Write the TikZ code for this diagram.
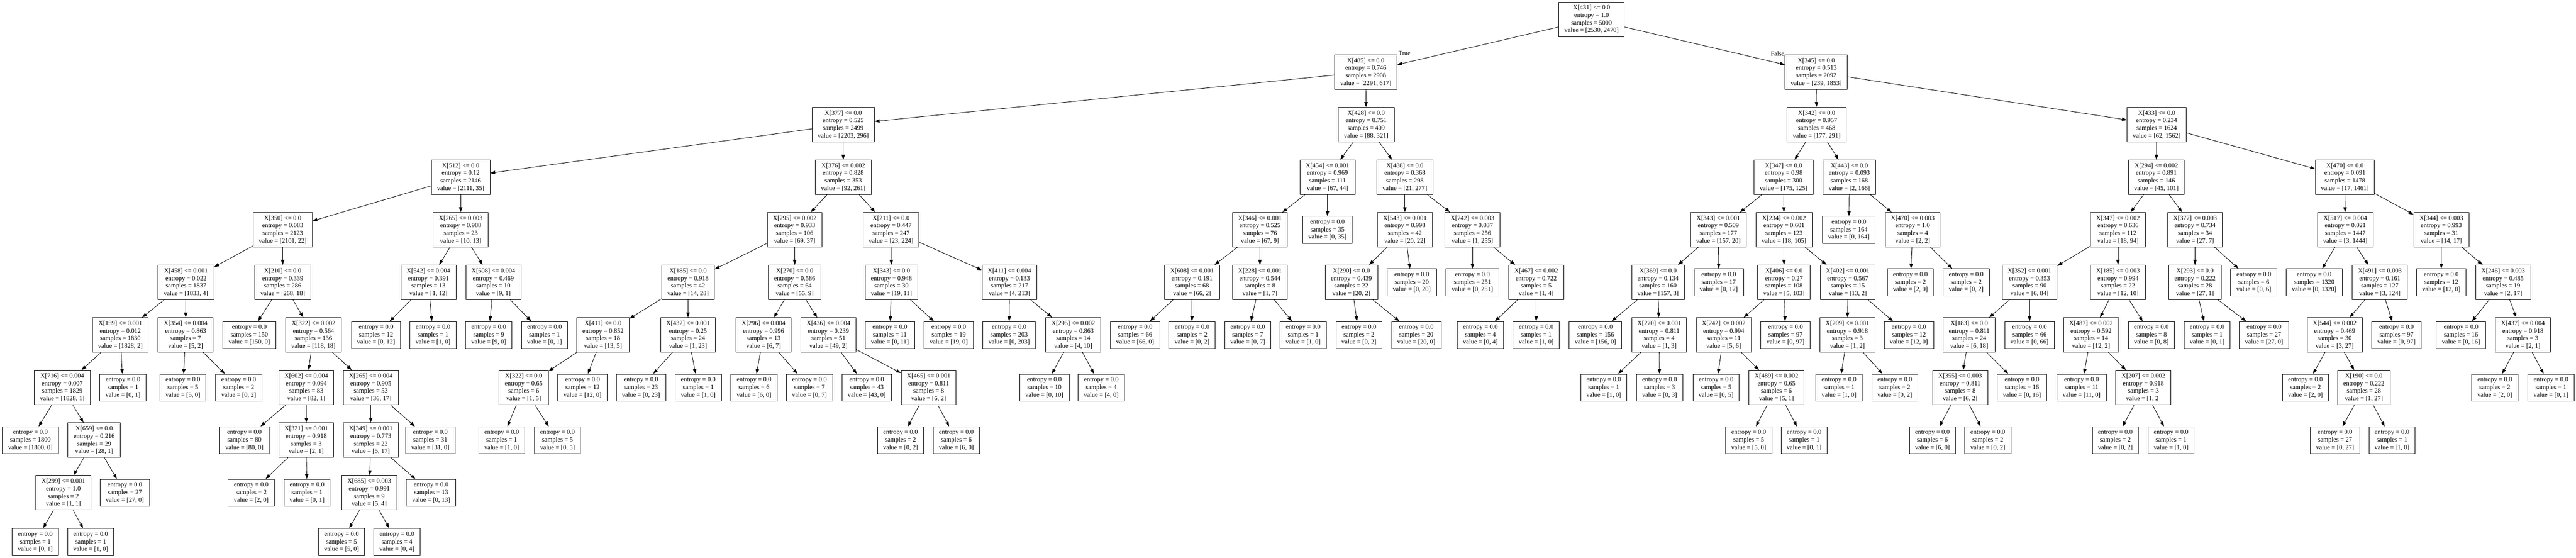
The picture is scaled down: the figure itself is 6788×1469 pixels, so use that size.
\documentclass[tikz,border=0pt]{standalone}
\usepackage{fontspec}
\setmainfont{Liberation Serif}
\usetikzlibrary{arrows.meta}
\newcommand{\mkT}[7]{\node[tn] (#1) at (#2,-#3) {#4\\entropy = #5\\samples = #6\\value = #7};}
\newcommand{\mkL}[5]{\node[lf] (#1) at (#2,-#3) {entropy = 0.0\\samples = #4\\value = #5};}
\newcommand{\mkE}[2]{\draw[edg] (#1) -- (#2);}
\begin{document}
\begin{tikzpicture}[x=1pt,y=1pt,font=\fontsize{17}{19.9}\selectfont,
  tn/.style={draw, line width=1.2pt, fill=white, rectangle, align=center, inner xsep=15pt, inner ysep=0pt, minimum height=91pt},
  lf/.style={tn, minimum height=71pt},
  edg/.style={line width=1.2pt, -{Triangle[length=13pt,width=9pt]}},
  lbl/.style={inner sep=0pt}]
\fill[white] (0,0) rectangle (6788,-1469);
\useasboundingbox (0,0) rectangle (6788,-1469);
% level 0
\mkT{r}{4194}{51}{X[431] <= 0.0}{1.0}{5000}{[2530, 2470]}
% level 1
\mkT{a}{3599}{189.6}{X[485] <= 0.0}{0.746}{2908}{[2291, 617]}
\mkT{b}{4786}{189.6}{X[345] <= 0.0}{0.513}{2092}{[239, 1853]}
% level 2
\mkT{a1}{2222}{328.2}{X[377] <= 0.0}{0.525}{2499}{[2203, 296]}
\mkT{a2}{3600}{328.2}{X[428] <= 0.0}{0.751}{409}{[88, 321]}
\mkT{b1}{4787}{328.2}{X[342] <= 0.0}{0.957}{468}{[177, 291]}
\mkT{b2}{5683}{328.2}{X[433] <= 0.0}{0.234}{1624}{[62, 1562]}
% level 3
\mkT{a11}{1214}{466.8}{X[512] <= 0.0}{0.12}{2146}{[2111, 35]}
\mkT{a12}{2222}{466.8}{X[376] <= 0.002}{0.828}{353}{[92, 261]}
\mkT{a21}{3498}{466.8}{X[454] <= 0.001}{0.969}{111}{[67, 44]}
\mkT{a22}{3702}{466.8}{X[488] <= 0.0}{0.368}{298}{[21, 277]}
\mkT{b11}{4700}{466.8}{X[347] <= 0.0}{0.98}{300}{[175, 125]}
\mkT{b12}{4873}{466.8}{X[443] <= 0.0}{0.093}{168}{[2, 166]}
\mkT{b21}{5682}{466.8}{X[294] <= 0.002}{0.891}{146}{[45, 101]}
\mkT{b22}{6179}{466.8}{X[470] <= 0.0}{0.091}{1478}{[17, 1461]}
% level 4
\mkT{a111}{745}{605.4}{X[350] <= 0.0}{0.083}{2123}{[2101, 22]}
\mkT{a112}{1214}{605.4}{X[265] <= 0.003}{0.988}{23}{[10, 13]}
\mkT{a121}{2094}{605.4}{X[295] <= 0.002}{0.933}{106}{[69, 37]}
\mkT{a122}{2348}{605.4}{X[211] <= 0.0}{0.447}{247}{[23, 224]}
\mkT{a211}{3320}{605.4}{X[346] <= 0.001}{0.525}{76}{[67, 9]}
\mkL{a212}{3498}{605.4}{35}{[0, 35]}
\mkT{a221}{3702}{605.4}{X[543] <= 0.001}{0.998}{42}{[20, 22]}
\mkT{a222}{3880}{605.4}{X[742] <= 0.003}{0.037}{256}{[1, 255]}
\mkT{b111}{4528}{605.4}{X[343] <= 0.001}{0.509}{177}{[157, 20]}
\mkT{b112}{4701}{605.4}{X[234] <= 0.002}{0.601}{123}{[18, 105]}
\mkL{b121}{4872}{605.4}{164}{[0, 164]}
\mkT{b122}{5040}{605.4}{X[470] <= 0.003}{1.0}{4}{[2, 2]}
\mkT{b211}{5581}{605.4}{X[347] <= 0.002}{0.636}{112}{[18, 94]}
\mkT{b212}{5784}{605.4}{X[377] <= 0.003}{0.734}{34}{[27, 7]}
\mkT{b221}{6180}{605.4}{X[517] <= 0.004}{0.021}{1447}{[3, 1444]}
\mkT{b222}{6433}{605.4}{X[344] <= 0.003}{0.993}{31}{[14, 17]}
% level 5
\mkT{a1111}{490}{744}{X[458] <= 0.001}{0.022}{1837}{[1833, 4]}
\mkT{a1112}{745}{744}{X[210] <= 0.0}{0.339}{286}{[268, 18]}
\mkT{a1121}{1129}{744}{X[542] <= 0.004}{0.391}{13}{[1, 12]}
\mkT{a1122}{1300}{744}{X[608] <= 0.004}{0.469}{10}{[9, 1]}
\mkT{a1211}{1813}{744}{X[185] <= 0.0}{0.918}{42}{[14, 28]}
\mkT{a1212}{2094}{744}{X[270] <= 0.0}{0.586}{64}{[55, 9]}
\mkT{a1221}{2349}{744}{X[343] <= 0.0}{0.948}{30}{[19, 11]}
\mkT{a1222}{2660}{744}{X[411] <= 0.004}{0.133}{217}{[4, 213]}
\mkT{a2111}{3141}{744}{X[608] <= 0.001}{0.191}{68}{[66, 2]}
\mkT{a2112}{3320}{744}{X[228] <= 0.001}{0.544}{8}{[1, 7]}
\mkT{a2211}{3561}{744}{X[290] <= 0.0}{0.439}{22}{[20, 2]}
\mkL{a2212}{3720}{744}{20}{[0, 20]}
\mkL{a2221}{3880}{744}{251}{[0, 251]}
\mkT{a2222}{4048}{744}{X[467] <= 0.002}{0.722}{5}{[1, 4]}
\mkT{b1111}{4369}{744}{X[369] <= 0.0}{0.134}{160}{[157, 3]}
\mkL{b1112}{4529}{744}{17}{[0, 17]}
\mkT{b1121}{4701}{744}{X[406] <= 0.0}{0.27}{108}{[5, 103]}
\mkT{b1122}{4869}{744}{X[402] <= 0.001}{0.567}{15}{[13, 2]}
\mkL{b1221}{5034}{744}{2}{[2, 0]}
\mkL{b1222}{5181}{744}{2}{[0, 2]}
\mkT{b2111}{5348}{744}{X[352] <= 0.001}{0.353}{90}{[6, 84]}
\mkT{b2112}{5581}{744}{X[185] <= 0.003}{0.994}{22}{[12, 10]}
\mkT{b2121}{5784}{744}{X[293] <= 0.0}{0.222}{28}{[27, 1]}
\mkL{b2122}{5939}{744}{6}{[0, 6]}
\mkL{b2211}{6098}{744}{1320}{[0, 1320]}
\mkT{b2212}{6271}{744}{X[491] <= 0.003}{0.161}{127}{[3, 124]}
\mkL{b2221}{6433}{744}{12}{[12, 0]}
\mkT{b2222}{6596}{744}{X[246] <= 0.003}{0.485}{19}{[2, 17]}
% level 6
\mkT{a11111}{317}{882.6}{X[159] <= 0.001}{0.012}{1830}{[1828, 2]}
\mkT{a11112}{489}{882.6}{X[354] <= 0.004}{0.863}{7}{[5, 2]}
\mkL{a11121}{657}{882.6}{150}{[150, 0]}
\mkT{a11122}{826}{882.6}{X[322] <= 0.002}{0.564}{136}{[118, 18]}
\mkL{a11211}{991}{882.6}{12}{[0, 12]}
\mkL{a11212}{1141}{882.6}{1}{[1, 0]}
\mkL{a11221}{1288}{882.6}{9}{[9, 0]}
\mkL{a11222}{1435}{882.6}{1}{[0, 1]}
\mkT{a12111}{1589}{882.6}{X[411] <= 0.0}{0.852}{18}{[13, 5]}
\mkT{a12112}{1813}{882.6}{X[432] <= 0.001}{0.25}{24}{[1, 23]}
\mkT{a12121}{2012}{882.6}{X[296] <= 0.004}{0.996}{13}{[6, 7]}
\mkT{a12122}{2183}{882.6}{X[436] <= 0.004}{0.239}{51}{[49, 2]}
\mkL{a12211}{2345}{882.6}{11}{[0, 11]}
\mkL{a12212}{2500}{882.6}{19}{[19, 0]}
\mkL{a12221}{2659}{882.6}{203}{[0, 203]}
\mkT{a12222}{2828}{882.6}{X[295] <= 0.002}{0.863}{14}{[4, 10]}
\mkL{a21111}{2991}{882.6}{66}{[66, 0]}
\mkL{a21112}{3141}{882.6}{2}{[0, 2]}
\mkL{a21121}{3288}{882.6}{7}{[0, 7]}
\mkL{a21122}{3434}{882.6}{1}{[1, 0]}
\mkL{a22111}{3581}{882.6}{2}{[0, 2]}
\mkL{a22112}{3732}{882.6}{20}{[20, 0]}
\mkL{a22221}{3901}{882.6}{4}{[0, 4]}
\mkL{a22222}{4048}{882.6}{1}{[1, 0]}
\mkL{b11111}{4204}{882.6}{156}{[156, 0]}
\mkT{b11112}{4372}{882.6}{X[270] <= 0.001}{0.811}{4}{[1, 3]}
\mkT{b11211}{4542}{882.6}{X[242] <= 0.002}{0.994}{11}{[5, 6]}
\mkL{b11212}{4705}{882.6}{97}{[0, 97]}
\mkT{b11221}{4868}{882.6}{X[209] <= 0.001}{0.918}{3}{[1, 2]}
\mkL{b11222}{5030}{882.6}{12}{[12, 0]}
\mkT{b21111}{5189}{882.6}{X[183] <= 0.0}{0.811}{24}{[6, 18]}
\mkL{b21112}{5348}{882.6}{66}{[0, 66]}
\mkT{b21121}{5510}{882.6}{X[487] <= 0.002}{0.592}{14}{[12, 2]}
\mkL{b21122}{5669}{882.6}{8}{[0, 8]}
\mkL{b21211}{5816}{882.6}{1}{[0, 1]}
\mkL{b21212}{5966}{882.6}{27}{[27, 0]}
\mkT{b22121}{6152}{882.6}{X[544] <= 0.002}{0.469}{30}{[3, 27]}
\mkL{b22122}{6315}{882.6}{97}{[0, 97]}
\mkL{b22221}{6485}{882.6}{16}{[0, 16]}
\mkT{b22222}{6648}{882.6}{X[437] <= 0.004}{0.918}{3}{[2, 1]}
% level 7
\mkT{a111111}{164}{1021.2}{X[716] <= 0.004}{0.007}{1829}{[1828, 1]}
\mkL{a111112}{324}{1021.2}{1}{[0, 1]}
\mkL{a111121}{482}{1021.2}{5}{[5, 0]}
\mkL{a111122}{629}{1021.2}{2}{[0, 2]}
\mkT{a111221}{807}{1021.2}{X[602] <= 0.004}{0.094}{83}{[82, 1]}
\mkT{a111222}{977}{1021.2}{X[265] <= 0.004}{0.905}{53}{[36, 17]}
\mkT{a121111}{1380}{1021.2}{X[322] <= 0.0}{0.65}{6}{[1, 5]}
\mkL{a121112}{1535}{1021.2}{12}{[12, 0]}
\mkL{a121121}{1689}{1021.2}{23}{[0, 23]}
\mkL{a121122}{1840}{1021.2}{1}{[1, 0]}
\mkL{a121211}{1987}{1021.2}{6}{[6, 0]}
\mkL{a121212}{2133}{1021.2}{7}{[0, 7]}
\mkL{a121221}{2284}{1021.2}{43}{[43, 0]}
\mkT{a121222}{2447}{1021.2}{X[465] <= 0.001}{0.811}{8}{[6, 2]}
\mkL{a122221}{2752}{1021.2}{10}{[0, 10]}
\mkL{a122222}{2902}{1021.2}{4}{[4, 0]}
\mkL{b111121}{4226}{1021.2}{1}{[1, 0]}
\mkL{b111122}{4373}{1021.2}{3}{[0, 3]}
\mkL{b112111}{4522}{1021.2}{5}{[0, 5]}
\mkT{b112112}{4681}{1021.2}{X[489] <= 0.002}{0.65}{6}{[5, 1]}
\mkL{b112211}{4846}{1021.2}{1}{[1, 0]}
\mkL{b112212}{4993}{1021.2}{2}{[0, 2]}
\mkT{b211111}{5165}{1021.2}{X[355] <= 0.003}{0.811}{8}{[6, 2]}
\mkL{b211112}{5328}{1021.2}{16}{[0, 16]}
\mkL{b211211}{5485}{1021.2}{11}{[11, 0]}
\mkT{b211212}{5648}{1021.2}{X[207] <= 0.002}{0.918}{3}{[1, 2]}
\mkL{b221211}{6075}{1021.2}{2}{[2, 0]}
\mkT{b221212}{6229}{1021.2}{X[190] <= 0.0}{0.222}{28}{[1, 27]}
\mkL{b222221}{6574}{1021.2}{2}{[2, 0]}
\mkL{b222222}{6722}{1021.2}{1}{[0, 1]}
% level 8
\mkL{a1111111}{80}{1159.8}{1800}{[1800, 0]}
\mkT{a1111112}{248}{1159.8}{X[659] <= 0.0}{0.216}{29}{[28, 1]}
\mkL{a1112211}{644}{1159.8}{80}{[80, 0]}
\mkT{a1112212}{807}{1159.8}{X[321] <= 0.001}{0.918}{3}{[2, 1]}
\mkT{a1112221}{977}{1159.8}{X[349] <= 0.001}{0.773}{22}{[5, 17]}
\mkL{a1112222}{1134}{1159.8}{31}{[31, 0]}
\mkL{a1211111}{1322}{1159.8}{1}{[1, 0]}
\mkL{a1211112}{1469}{1159.8}{5}{[0, 5]}
\mkL{a1212221}{2373}{1159.8}{2}{[0, 2]}
\mkL{a1212222}{2520}{1159.8}{6}{[6, 0]}
\mkL{b1121121}{4608}{1159.8}{5}{[5, 0]}
\mkL{b1121122}{4754}{1159.8}{1}{[0, 1]}
\mkL{b2111111}{5092}{1159.8}{6}{[6, 0]}
\mkL{b2111112}{5238}{1159.8}{2}{[0, 2]}
\mkL{b2112121}{5574}{1159.8}{2}{[0, 2]}
\mkL{b2112122}{5721}{1159.8}{1}{[1, 0]}
\mkL{b2212121}{6153}{1159.8}{27}{[0, 27]}
\mkL{b2212122}{6303}{1159.8}{1}{[1, 0]}
% level 9
\mkT{a11111121}{167}{1298.4}{X[299] <= 0.001}{1.0}{2}{[1, 1]}
\mkL{a11111122}{329}{1298.4}{27}{[27, 0]}
\mkL{a11122121}{662}{1298.4}{2}{[2, 0]}
\mkL{a11122122}{809}{1298.4}{1}{[0, 1]}
\mkT{a11122211}{973}{1298.4}{X[685] <= 0.003}{0.991}{9}{[5, 4]}
\mkL{a11122212}{1136}{1298.4}{13}{[0, 13]}
% level 10
\mkL{a111111211}{93}{1428}{1}{[0, 1]}
\mkL{a111111212}{239}{1428}{1}{[1, 0]}
\mkL{a111222111}{900}{1428}{5}{[5, 0]}
\mkL{a111222112}{1046}{1428}{4}{[0, 4]}
% edges
\mkE{r}{a}\mkE{r}{b}
\mkE{a}{a1}\mkE{a}{a2}\mkE{b}{b1}\mkE{b}{b2}
\mkE{a1}{a11}\mkE{a1}{a12}\mkE{a2}{a21}\mkE{a2}{a22}
\mkE{b1}{b11}\mkE{b1}{b12}\mkE{b2}{b21}\mkE{b2}{b22}
\mkE{a11}{a111}\mkE{a11}{a112}\mkE{a12}{a121}\mkE{a12}{a122}
\mkE{a21}{a211}\mkE{a21}{a212}\mkE{a22}{a221}\mkE{a22}{a222}
\mkE{b11}{b111}\mkE{b11}{b112}\mkE{b12}{b121}\mkE{b12}{b122}
\mkE{b21}{b211}\mkE{b21}{b212}\mkE{b22}{b221}\mkE{b22}{b222}
\mkE{a111}{a1111}\mkE{a111}{a1112}\mkE{a112}{a1121}\mkE{a112}{a1122}
\mkE{a121}{a1211}\mkE{a121}{a1212}\mkE{a122}{a1221}\mkE{a122}{a1222}
\mkE{a211}{a2111}\mkE{a211}{a2112}\mkE{a221}{a2211}\mkE{a221}{a2212}
\mkE{a222}{a2221}\mkE{a222}{a2222}
\mkE{b111}{b1111}\mkE{b111}{b1112}\mkE{b112}{b1121}\mkE{b112}{b1122}
\mkE{b122}{b1221}\mkE{b122}{b1222}
\mkE{b211}{b2111}\mkE{b211}{b2112}\mkE{b212}{b2121}\mkE{b212}{b2122}
\mkE{b221}{b2211}\mkE{b221}{b2212}\mkE{b222}{b2221}\mkE{b222}{b2222}
\mkE{a1111}{a11111}\mkE{a1111}{a11112}\mkE{a1112}{a11121}\mkE{a1112}{a11122}
\mkE{a1121}{a11211}\mkE{a1121}{a11212}\mkE{a1122}{a11221}\mkE{a1122}{a11222}
\mkE{a1211}{a12111}\mkE{a1211}{a12112}\mkE{a1212}{a12121}\mkE{a1212}{a12122}
\mkE{a1221}{a12211}\mkE{a1221}{a12212}\mkE{a1222}{a12221}\mkE{a1222}{a12222}
\mkE{a2111}{a21111}\mkE{a2111}{a21112}\mkE{a2112}{a21121}\mkE{a2112}{a21122}
\mkE{a2211}{a22111}\mkE{a2211}{a22112}\mkE{a2222}{a22221}\mkE{a2222}{a22222}
\mkE{b1111}{b11111}\mkE{b1111}{b11112}\mkE{b1121}{b11211}\mkE{b1121}{b11212}
\mkE{b1122}{b11221}\mkE{b1122}{b11222}
\mkE{b2111}{b21111}\mkE{b2111}{b21112}\mkE{b2112}{b21121}\mkE{b2112}{b21122}
\mkE{b2121}{b21211}\mkE{b2121}{b21212}\mkE{b2212}{b22121}\mkE{b2212}{b22122}
\mkE{b2222}{b22221}\mkE{b2222}{b22222}
\mkE{a11111}{a111111}\mkE{a11111}{a111112}\mkE{a11112}{a111121}\mkE{a11112}{a111122}
\mkE{a11122}{a111221}\mkE{a11122}{a111222}
\mkE{a12111}{a121111}\mkE{a12111}{a121112}\mkE{a12112}{a121121}\mkE{a12112}{a121122}
\mkE{a12121}{a121211}\mkE{a12121}{a121212}\mkE{a12122}{a121221}\mkE{a12122}{a121222}
\mkE{a12222}{a122221}\mkE{a12222}{a122222}
\mkE{b11112}{b111121}\mkE{b11112}{b111122}\mkE{b11211}{b112111}\mkE{b11211}{b112112}
\mkE{b11221}{b112211}\mkE{b11221}{b112212}
\mkE{b21111}{b211111}\mkE{b21111}{b211112}\mkE{b21121}{b211211}\mkE{b21121}{b211212}
\mkE{b22121}{b221211}\mkE{b22121}{b221212}\mkE{b22222}{b222221}\mkE{b22222}{b222222}
\mkE{a111111}{a1111111}\mkE{a111111}{a1111112}\mkE{a111221}{a1112211}\mkE{a111221}{a1112212}
\mkE{a111222}{a1112221}\mkE{a111222}{a1112222}\mkE{a121111}{a1211111}\mkE{a121111}{a1211112}
\mkE{a121222}{a1212221}\mkE{a121222}{a1212222}
\mkE{b112112}{b1121121}\mkE{b112112}{b1121122}\mkE{b211111}{b2111111}\mkE{b211111}{b2111112}
\mkE{b211212}{b2112121}\mkE{b211212}{b2112122}\mkE{b221212}{b2212121}\mkE{b221212}{b2212122}
\mkE{a1111112}{a11111121}\mkE{a1111112}{a11111122}\mkE{a1112212}{a11122121}\mkE{a1112212}{a11122122}
\mkE{a1112221}{a11122211}\mkE{a1112221}{a11122212}
\mkE{a11111121}{a111111211}\mkE{a11111121}{a111111212}
\mkE{a11122211}{a111222111}\mkE{a11122211}{a111222112}
% labels
\node[lbl] (lblT) at (3701,-140) {True};
\node[lbl] (lblF) at (4684,-141) {False};
\end{tikzpicture}
\end{document}
